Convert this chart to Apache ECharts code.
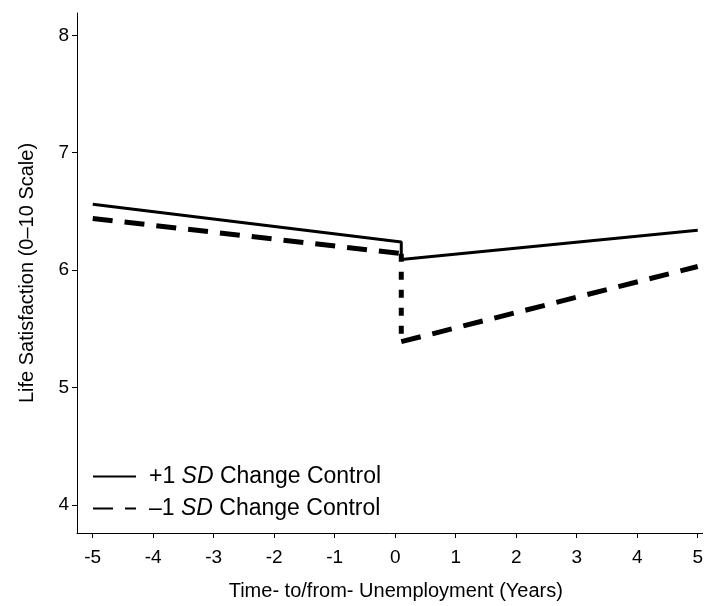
<!DOCTYPE html>
<html>
<head>
<meta charset="utf-8">
<script src="https://cdn.jsdelivr.net/npm/echarts@6/dist/echarts.min.js"></script>
<style>
html,body{margin:0;padding:0;background:#fff;}
#chart{width:706px;height:606px;}
</style>
</head>
<body>
<div id="chart"></div>
<script>
const xPoints = [-5, 0.1, 0.1, 5];
const highControl = [6.56, 6.24, 6.09, 6.34];
const lowControl = [6.44, 6.14, 5.39, 6.03];
const xTicks = [-5, -4, -3, -2, -1, 0, 1, 2, 3, 4, 5];
const yTicks = [4, 5, 6, 7, 8];
const seriesNames = ['+1 SD Change Control', '\u20131 SD Change Control'];

const highData = xPoints.map((x, i) => [x, highControl[i]]);
const lowLeft = [[xPoints[0], lowControl[0]], [xPoints[1], lowControl[1]]];
const lowDrop = [[xPoints[1], lowControl[1]], [xPoints[2], lowControl[2]]];
const lowRight = [[xPoints[2], lowControl[2]], [xPoints[3], lowControl[3]]];

const font = 'Liberation Sans, Arial, sans-serif';
const chart = echarts.init(document.getElementById('chart'), null, {renderer: 'canvas'});
chart.setOption({
  animation: false,
  backgroundColor: '#fff',
  grid: {left: 77, right: 0, top: 13, bottom: 73, containLabel: false},
  xAxis: {
    type: 'value', min: -5.26, max: 5.08,
    name: 'Time- to/from- Unemployment (Years)', nameLocation: 'middle', nameGap: 48,
    nameTextStyle: {fontFamily: font, fontSize: 20, color: '#000', padding: [0, 0, 0, 12]},
    axisLine: {show: true, onZero: false, lineStyle: {color: '#000', width: 1}},
    axisTick: {show: true, customValues: xTicks, length: 5, lineStyle: {color: '#000'}},
    axisLabel: {customValues: xTicks, margin: 15, fontFamily: font, fontSize: 19, color: '#000'},
    splitLine: {show: false}
  },
  yAxis: {
    type: 'value', min: 3.76, max: 8.19,
    name: 'Life Satisfaction (0\u201310 Scale)', nameLocation: 'middle', nameGap: 40, nameRotate: 90,
    nameTextStyle: {fontFamily: font, fontSize: 20, color: '#000'},
    axisLine: {show: true, onZero: false, lineStyle: {color: '#000', width: 1}},
    axisTick: {show: true, customValues: yTicks, length: 5, lineStyle: {color: '#000'}},
    axisLabel: {customValues: yTicks, margin: 8, fontFamily: font, fontSize: 19, color: '#000'},
    splitLine: {show: false}
  },
  legend: {
    data: seriesNames,
    orient: 'vertical', left: 87, top: 460,
    itemWidth: 43, itemHeight: 14, itemGap: 9,
    itemStyle: {opacity: 0},
    formatter: function (name) {
      const sign = name.charAt(0);
      return sign + '1 {i|SD} Change Control';
    },
    textStyle: {fontFamily: font, fontSize: 23, color: '#000', padding: [0, 0, 0, 8],
      rich: {i: {fontFamily: font, fontSize: 23, fontStyle: 'italic', color: '#000'}}}
  },
  series: [
    {name: seriesNames[0], type: 'line', data: highData, symbol: 'none',
      lineStyle: {color: '#000', width: 3}, itemStyle: {color: '#000'}},
    {name: seriesNames[1], type: 'line', data: lowLeft, symbol: 'none',
      lineStyle: {color: '#000', width: 5, type: [20, 12]}, itemStyle: {color: '#000'}},
    {name: 'drop', type: 'line', data: lowDrop, symbol: 'none',
      lineStyle: {color: '#000', width: 5, type: [8, 10]}, itemStyle: {color: '#000'}},
    {name: 'rise', type: 'line', data: lowRight, symbol: 'none',
      lineStyle: {color: '#000', width: 5, type: [20, 12]}, itemStyle: {color: '#000'}}
  ]
});
</script>
</body>
</html>
